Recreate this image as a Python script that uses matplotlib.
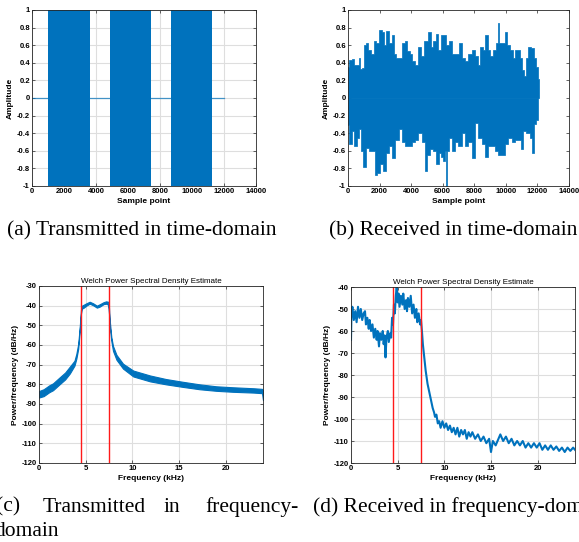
import matplotlib
matplotlib.use("Agg")
import matplotlib.pyplot as plt
from matplotlib.ticker import FuncFormatter

# MATLAB-like look
BLUE = "#0072BD"
RED = "#FF1A1A"
FRAME = "#262626"
GRID = "#dedede"

plt.rcParams.update({
    "font.family": "Liberation Sans",
    "axes.unicode_minus": False,
})

# ---- (a) transmitted, time-domain: bursts at full scale + zero line ----
tx_burst_start = [1000, 4850, 8670]
tx_burst_end = [3650, 7460, 11270]
tx_zero_span = [0, 12000]

# ---- (b) received, time-domain: envelope ----
rx_up_x = [0, 42, 147, 316, 463, 674, 716, 821, 947, 1031, 1200, 1368, 1516,
           1726, 1873, 2084, 2210, 2358, 2505, 2673, 2842, 2947, 3094, 3305,
           3515, 3663, 3831, 3978, 4147, 4357, 4568, 4736, 4947, 5157, 5305,
           5473, 5662, 5789, 5999, 6167, 6294, 6463, 6673, 6883, 7136, 7304,
           7515, 7725, 7936, 8146, 8315, 8462, 8609, 8778, 8946, 9094, 9304,
           9430, 9515, 9600, 9662, 9830, 9999, 10209, 10357, 10504, 10672,
           10841, 10988, 11093, 11199, 11346, 11514, 11683, 11830, 11977, 12082]
rx_up_y = [0.25, 0.35, 0.43, 0.44, 0.38, 0.38, 0.45, 0.33, 0.34, 0.60, 0.63,
           0.55, 0.50, 0.65, 0.62, 0.77, 0.75, 0.60, 0.76, 0.62, 0.72, 0.50,
           0.45, 0.45, 0.62, 0.65, 0.53, 0.50, 0.42, 0.38, 0.58, 0.48, 0.65,
           0.75, 0.58, 0.65, 0.73, 0.55, 0.72, 0.72, 0.60, 0.65, 0.50, 0.50,
           0.62, 0.45, 0.42, 0.50, 0.55, 0.48, 0.38, 0.58, 0.55, 0.72, 0.55,
           0.48, 0.55, 0.62, 0.85, 0.62, 0.63, 0.62, 0.75, 0.60, 0.55, 0.45,
           0.55, 0.55, 0.45, 0.32, 0.25, 0.45, 0.58, 0.57, 0.45, 0.35, 0.22]
rx_lo_x = [0, 147, 358, 463, 674, 779, 884, 1032, 1200, 1411, 1621, 1789,
           1937, 2147, 2316, 2463, 2674, 2884, 3095, 3305, 3516, 3726, 3937,
           4147, 4358, 4568, 4779, 4926, 5095, 5305, 5516, 5684, 5832, 5937,
           6084, 6200, 6253, 6300, 6463, 6674, 6884, 7095, 7305, 7516, 7726,
           7937, 8105, 8358, 8568, 8779, 8989, 9200, 9411, 9621, 9832, 10042,
           10253, 10463, 10674, 10884, 11032, 11200, 11411, 11621, 11726,
           11832, 12042]
rx_lo_y = [-0.31, -0.52, -0.38, -0.55, -0.45, -0.35, -0.60, -0.78, -0.57,
           -0.60, -0.60, -0.88, -0.85, -0.75, -0.83, -0.62, -0.55, -0.68,
           -0.48, -0.35, -0.50, -0.55, -0.55, -0.50, -0.48, -0.40, -0.50,
           -0.83, -0.65, -0.58, -0.60, -0.75, -0.62, -0.67, -0.72, -0.60,
           -1.00, -0.60, -0.45, -0.60, -0.50, -0.55, -0.40, -0.55, -0.50,
           -0.68, -0.28, -0.45, -0.52, -0.67, -0.55, -0.55, -0.60, -0.65,
           -0.65, -0.52, -0.45, -0.50, -0.48, -0.48, -0.58, -0.38, -0.40,
           -0.45, -0.62, -0.30, -0.25]

# ---- (c) transmitted PSD band (kHz, lower dB, upper dB) ----
psd_tx_f = [0, 0.5, 1.1, 1.5, 2.2, 2.8, 3.3, 3.8, 4.0, 4.2, 4.36, 4.5, 4.6,
            4.8, 5.07, 5.43, 5.8, 6.2, 6.5, 6.93, 7.2, 7.4, 7.5, 7.57, 7.75,
            7.93, 8.3, 9.0, 10.1, 11.9, 13.6, 15.4, 17.2, 19.0, 20.8, 23.0,
            23.9, 24.0]
psd_tx_lo = [-86.7, -86, -84, -83, -80, -77.5, -74.5, -70.5, -67, -62, -53,
             -44, -41.5, -41, -40, -39, -39.8, -41, -40.5, -39.2, -39, -39.5,
             -44, -50, -58, -63, -67.5, -72, -76, -78.5, -80, -81.3, -82.5,
             -83.3, -83.8, -84.2, -84.5, -88]
psd_tx_hi = [-83.4, -82.5, -80.5, -79.5, -76.5, -74, -71, -68, -64.5, -59.5,
             -51, -42, -40, -39.5, -38.8, -38, -38.8, -40, -39.3, -38.2,
             -37.8, -38, -41, -47, -56, -60.5, -65, -69.5, -73, -75.5, -77.3,
             -78.7, -80, -81, -81.5, -82, -82.3, -83]

# ---- (d) received PSD (kHz, dB) ----
psd_rx_f = [0, 0.05, 0.15, 0.3, 0.45, 0.6, 0.75, 0.9, 1.05, 1.2, 1.35, 1.5,
            1.6, 1.75, 1.9, 2.0, 2.15, 2.3, 2.45, 2.6, 2.75, 2.85, 3.0, 3.1,
            3.25, 3.4, 3.5, 3.6, 3.7, 3.8, 3.95, 4.05, 4.2, 4.3, 4.4, 4.5,
            4.6, 4.7, 4.8, 4.9, 5.0, 5.1, 5.2, 5.35, 5.5, 5.6, 5.75, 5.9, 6.0,
            6.1, 6.25, 6.4, 6.55, 6.7, 6.85, 7.0, 7.1, 7.25, 7.4, 7.5, 7.6,
            7.7, 7.8, 7.9, 8.0, 8.1, 8.2, 8.3, 8.45, 8.6, 8.75, 8.9, 9.0,
            9.15, 9.3, 9.45, 9.6, 9.8, 10.0, 10.2, 10.4, 10.6, 10.8, 11.0,
            11.2, 11.4, 11.6, 11.8, 12.0, 12.2, 12.4, 12.6, 12.8, 13.0, 13.3,
            13.6, 13.9, 14.2, 14.5, 14.8, 15.0, 15.2, 15.5, 15.8, 16.0, 16.3,
            16.6, 16.9, 17.2, 17.5, 17.8, 18.1, 18.4, 18.7, 19.0, 19.3, 19.6,
            19.9, 20.2, 20.5, 20.8, 21.1, 21.4, 21.7, 22.0, 22.3, 22.6, 22.9,
            23.2, 23.5, 23.8, 24.0]
psd_rx_db = [-64, -52, -49, -55, -51, -56, -49, -54, -50, -55, -52, -51, -57,
             -54, -59, -55, -60, -57, -63, -59, -64, -60, -67, -61, -64, -60,
             -66, -62, -72, -63, -60, -65, -61, -63, -54, -57, -48, -52, -44,
             -40, -47, -43, -49, -44, -48, -43, -50, -46, -51, -45, -49, -44,
             -52, -48, -54, -50, -56, -52, -57, -55, -60, -66, -70, -74, -78,
             -81, -84, -86, -89, -92, -95, -97, -99, -98, -102, -101, -104,
             -101, -104, -102, -105, -103, -106, -104, -107, -104, -108, -105,
             -107, -105, -109, -106, -108, -106, -109, -107, -110, -108, -111,
             -109, -115, -110, -112, -109, -107, -110, -108, -111, -109, -112,
             -110, -112, -110, -113, -111, -113, -111, -113, -111, -114, -112,
             -114, -112, -114, -112.5, -114.5, -113, -115, -113, -114.5, -113,
             -114]

band_edges_khz = [4.5, 7.5]

fmt = FuncFormatter(lambda v, p: f"{v:g}")


def matlab_axes(ax, grid=True):
    ax.tick_params(direction="in", length=2.2, width=0.5, top=True, right=True,
                   labelsize=5.5, pad=1.5, colors=FRAME, labelcolor="black")
    for lbl in ax.get_xticklabels() + ax.get_yticklabels():
        lbl.set_fontweight("bold")
    for s in ax.spines.values():
        s.set_linewidth(0.6)
        s.set_color(FRAME)
    if grid:
        ax.grid(color=GRID, lw=0.8)
    ax.set_axisbelow(True)
    ax.xaxis.set_major_formatter(fmt)
    ax.yaxis.set_major_formatter(fmt)


W, H = 579, 542
fig = plt.figure(figsize=(W / 100, H / 100), dpi=100)


def box(l, t, r, b):
    return [l / W, 1 - b / H, (r - l) / W, (b - t) / H]


lab = dict(fontsize=6, fontweight="bold", labelpad=2)

# (a)
ax = fig.add_axes(box(32, 10, 256, 186))
ax.plot(tx_zero_span, [0, 0], color=BLUE, lw=0.9, alpha=0.7)
for s, e in zip(tx_burst_start, tx_burst_end):
    ax.fill_between([s, e], -1, 1, color=BLUE, lw=0)
ax.set_xlim(0, 14000)
ax.set_ylim(-1, 1)
ax.set_xticks(range(0, 14001, 2000))
ax.set_yticks([-1, -0.8, -0.6, -0.4, -0.2, 0, 0.2, 0.4, 0.6, 0.8, 1])
ax.set_xlabel("Sample point", **lab)
ax.set_ylabel("Amplitude", **lab)
matlab_axes(ax)

# (b)
ax = fig.add_axes(box(348, 10, 569, 186))
ax.fill_between(rx_up_x, 0, rx_up_y, step="mid", color=BLUE, lw=0.5)
ax.fill_between(rx_lo_x, rx_lo_y, 0, step="mid", color=BLUE, lw=0.5)
ax.set_xlim(0, 14000)
ax.set_ylim(-1, 1)
ax.set_xticks(range(0, 14001, 2000))
ax.set_yticks([-1, -0.8, -0.6, -0.4, -0.2, 0, 0.2, 0.4, 0.6, 0.8, 1])
ax.set_xlabel("Sample point", **lab)
ax.set_ylabel("Amplitude", **lab)
matlab_axes(ax, grid=False)

# (c)
ax = fig.add_axes(box(39, 286, 263, 463))
ax.fill_between(psd_tx_f, psd_tx_lo, psd_tx_hi, color=BLUE, lw=0.8)
for f in band_edges_khz:
    ax.axvline(f, color=RED, lw=1.0)
ax.set_xlim(0, 24)
ax.set_ylim(-120, -30)
ax.set_xticks([0, 5, 10, 15, 20])
ax.set_yticks(range(-120, -29, 10))
ax.set_xlabel("Frequency (kHz)", **lab)
ax.set_ylabel("Power/frequency (dB/Hz)", **lab)
ax.set_title("Welch Power Spectral Density Estimate", fontsize=5.8, pad=2)
matlab_axes(ax)

# (d)
ax = fig.add_axes(box(351, 287, 575, 463))
ax.plot(psd_rx_f, psd_rx_db, color=BLUE, lw=1.5)
for f in band_edges_khz:
    ax.axvline(f, color=RED, lw=1.0)
ax.set_xlim(0, 24)
ax.set_ylim(-120, -40)
ax.set_xticks([0, 5, 10, 15, 20])
ax.set_yticks(range(-120, -39, 10))
ax.set_xlabel("Frequency (kHz)", **lab)
ax.set_ylabel("Power/frequency (dB/Hz)", **lab)
ax.set_title("Welch Power Spectral Density Estimate", fontsize=5.8, pad=2)
matlab_axes(ax)

# captions (LaTeX-style subfigure captions, serif)
cap = dict(fontsize=15.5, family="Liberation Serif", va="center", color="black")
fig.text(7 / W, 1 - 231 / H, "(a) Transmitted in time-domain", ha="left", **cap)
fig.text(329 / W, 1 - 231 / H, "(b) Received in time-domain", ha="left", **cap)
for word, x in [("(c)", -4), ("Transmitted", 43), ("in", 163), ("frequency-", 205)]:
    fig.text(x / W, 1 - 507 / H, word, ha="left", **cap)
fig.text(-6 / W, 1 - 532 / H, "domain", ha="left", **cap)
fig.text(313 / W, 1 - 507 / H, "(d) Received in frequency-domain", ha="left", **cap)

fig.savefig("out.png", dpi=100, facecolor="white")
